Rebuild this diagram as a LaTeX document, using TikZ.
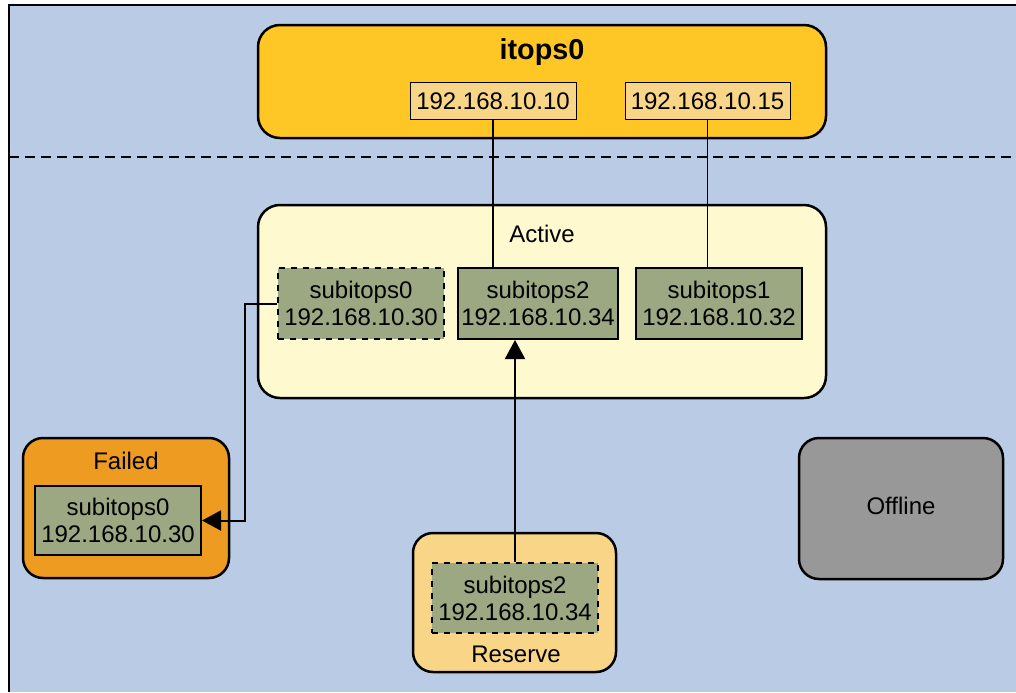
\documentclass[tikz,border=0pt]{standalone}
\usepackage{fontspec}
\setmainfont{Liberation Sans}
\usepackage{tikz}
\usetikzlibrary{arrows.meta}
\definecolor{skyback}{RGB}{186,203,229}
\definecolor{gold}{RGB}{255,199,38}
\definecolor{paleorange}{RGB}{249,213,135}
\definecolor{cream}{RGB}{254,249,206}
\definecolor{olive}{RGB}{155,168,130}
\definecolor{deeporange}{RGB}{238,155,34}
\definecolor{offgrey}{RGB}{152,152,152}
\tikzstyle{group} = [rectangle, draw, line width=1.25pt, rounded corners=11pt, inner sep=0pt]
\tikzstyle{iface} = [rectangle, draw, fill=olive, line width=1pt, align=center,
    minimum width=83pt, minimum height=35.5pt, inner sep=0pt]
\tikzstyle{addr} = [rectangle, draw, fill=paleorange, line width=0.5pt,
    minimum width=83pt, minimum height=18.5pt, inner sep=0pt]
\tikzset{
  myarrow/.style={-{Triangle[width=10pt,length=9.5pt]}, line width=1pt},
  link/.style={line width=0.75pt},
	}

\begin{document}
\begin{tikzpicture}[x=0.5pt, y=-0.5pt, every node/.style={font=\fontsize{12}{13.5}\selectfont}]
    \useasboundingbox (0,0) rectangle (1016,692);
    \fill[skyback] (9,5) rectangle (1016,692);
    \draw[line width=1.25pt] (9,692) -- (9,5) -- (1016,5);
    \draw[line width=1.3pt, dash pattern=on 5pt off 3pt] (9,157) -- (1016,157);
    % multipathing group and its data addresses
    \node[group, fill=gold, minimum width=284pt, minimum height=56.5pt](itops) at (542,81.5){};
    \node[font=\bfseries\fontsize{14.4}{16}\selectfont](itopstitle) at (542,52){itops0};
    \node[addr](addr10) at (493,101){192.168.10.10};
    \node[addr, minimum width=82.5pt](addr15) at (707.5,101){192.168.10.15};
    % active interfaces
    \node[group, fill=cream, minimum width=284pt, minimum height=96.5pt](active) at (542,301.5){};
    \node(activelabel) at (542,234){Active};
    \node[iface, dashed](sub0) at (361,303.5){subitops0\\192.168.10.30};
    \node[iface, minimum width=80pt](sub2) at (538,303.5){subitops2\\192.168.10.34};
    \node[iface](sub1) at (719,303.5){subitops1\\192.168.10.32};
    \draw[link](addr10.south)--(addr10.south |- sub2.north);
    \draw[link](addr15.south)--(addr15.south |- sub1.north);
    % failed interface
    \node[group, fill=deeporange, rounded corners=10pt, minimum width=103pt, minimum height=70pt](failed) at (126,508){};
    \node(failedlabel) at (126,461){Failed};
    \node[iface, minimum height=34.5pt](failsub) at (118,520.5){subitops0\\192.168.10.30};
    \draw[myarrow](sub0.west)--++(-32,0)|-(failsub.east);
    % standby interface
    \node[group, fill=paleorange, rounded corners=10pt, minimum width=101.5pt, minimum height=69.5pt](reserve) at (514.5,602.5){};
    \node(reservelabel) at (516,654){Reserve};
    \node[iface, dashed, minimum height=35pt](resub) at (515,598){subitops2\\192.168.10.34};
    \draw[myarrow](resub.north)--(resub.north |- sub2.south);
    % offline interfaces
    \node[group, fill=offgrey, rounded corners=10pt, minimum width=102pt, minimum height=70.5pt](offline) at (901,508.5){};
    \node(offlinelabel) at (901,506){Offline};
  \end{tikzpicture}
\end{document}
